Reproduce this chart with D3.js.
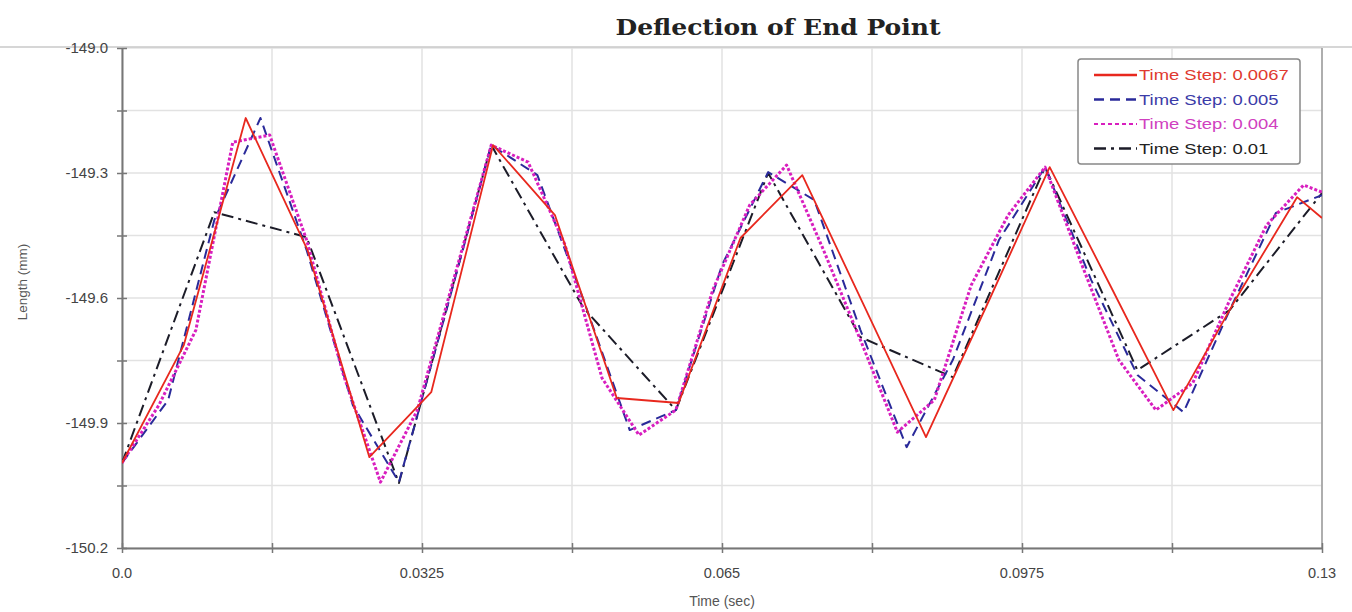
<!DOCTYPE html>
<html>
<head>
<meta charset="utf-8">
<script src="https://cdn.jsdelivr.net/npm/d3@7"></script>
<style>
  body { margin: 0; background: #fff; }
  text { font-family: Arial, "Liberation Sans", sans-serif; }
</style>
</head>
<body>
<svg id="chart" width="1352" height="612"></svg>
<script>
// time (sec) for each series
const tRed = [0, 0.0067, 0.0134, 0.0201, 0.0268, 0.0335, 0.0402, 0.0469, 0.0536, 0.0603, 0.067,
  0.0737, 0.0804, 0.0871, 0.0938, 0.1005, 0.1072, 0.1139, 0.1206, 0.1273, 0.13];
const vRed = [-149.996, -149.713, -149.168, -149.485, -149.982, -149.826, -149.233, -149.401, -149.840, -149.852, -149.456,
  -149.305, -149.619, -149.934, -149.612, -149.286, -149.576, -149.869, -149.605, -149.358, -149.408];

const tBlue = [0, 0.005, 0.01, 0.015, 0.02, 0.025, 0.03, 0.035, 0.04, 0.045, 0.05, 0.055, 0.06, 0.065,
  0.07, 0.075, 0.08, 0.085, 0.09, 0.095, 0.1, 0.105, 0.11, 0.115, 0.12, 0.125, 0.13];
const vBlue = [-149.996, -149.845, -149.413, -149.168, -149.485, -149.857, -150.042, -149.641, -149.233, -149.305,
  -149.605, -149.917, -149.869, -149.521, -149.298, -149.365, -149.677, -149.958, -149.749, -149.461,
  -149.286, -149.557, -149.785, -149.874, -149.629, -149.396, -149.353];

const tPink = [0, 0.004, 0.008, 0.012, 0.016, 0.02, 0.024, 0.028, 0.032, 0.036, 0.04, 0.044, 0.048, 0.052,
  0.056, 0.06, 0.064, 0.068, 0.072, 0.076, 0.08, 0.084, 0.088, 0.092, 0.096, 0.1, 0.104, 0.108, 0.112,
  0.116, 0.12, 0.124, 0.128, 0.13];
const vPink = [-149.996, -149.857, -149.677, -149.226, -149.209, -149.461, -149.785, -150.042, -149.869, -149.550,
  -149.233, -149.274, -149.473, -149.792, -149.929, -149.869, -149.581, -149.377, -149.281, -149.485,
  -149.701, -149.922, -149.845, -149.569, -149.401, -149.286, -149.521, -149.749, -149.869, -149.804,
  -149.605, -149.425, -149.329, -149.346];

const tBlack = [0, 0.01, 0.02, 0.03, 0.04, 0.05, 0.06, 0.07, 0.08, 0.09, 0.1, 0.11, 0.12, 0.13];
const vBlack = [-149.996, -149.394, -149.454, -150.044, -149.233, -149.624, -149.869, -149.300, -149.694,
  -149.790, -149.286, -149.773, -149.629, -149.348];

const xTicks = [0, 0.0325, 0.065, 0.0975, 0.13];
const xTickLabels = ["0.0", "0.0325", "0.065", "0.0975", "0.13"];
const yTicks = [-149.0, -149.3, -149.6, -149.9, -150.2];
const yTickLabels = ["-149.0", "-149.3", "-149.6", "-149.9", "-150.2"];

const seriesNames = ["Time Step: 0.0067", "Time Step: 0.005", "Time Step: 0.004", "Time Step: 0.01"];

const svg = d3.select("#chart");
const margin = { top: 48, right: 30, bottom: 64, left: 122 };
const width = 1352, height = 612;

const x = d3.scaleLinear().domain([0, 0.13]).range([margin.left, width - margin.right]);
const y = d3.scaleLinear().domain([-150.2, -149.0]).range([height - margin.bottom, margin.top]);

// gridlines (major + minor)
const xGrid = d3.range(0, 9).map(i => i * 0.01625);
const yGrid = d3.range(0, 9).map(i => -149.0 - i * 0.15);

svg.append("g").selectAll("line.xg").data(xGrid).join("line")
  .attr("x1", d => x(d)).attr("x2", d => x(d))
  .attr("y1", margin.top).attr("y2", height - margin.bottom)
  .attr("stroke", "#e2e2e2").attr("stroke-width", 1.5);
svg.append("g").selectAll("line.yg").data(yGrid).join("line")
  .attr("x1", margin.left).attr("x2", width - margin.right)
  .attr("y1", d => y(d)).attr("y2", d => y(d))
  .attr("stroke", "#e2e2e2").attr("stroke-width", 1.5);

// frame: top and right
svg.append("line").attr("x1", 0).attr("x2", width)
  .attr("y1", margin.top - 1).attr("y2", margin.top - 1)
  .attr("stroke", "#c8c8c8").attr("stroke-width", 1.5);
svg.append("line").attr("x1", width - margin.right).attr("x2", width - margin.right)
  .attr("y1", margin.top).attr("y2", height - margin.bottom)
  .attr("stroke", "#9a9a9a").attr("stroke-width", 1.5);

// axes
const xAxis = svg.append("g")
  .attr("transform", `translate(0,${height - margin.bottom})`)
  .call(d3.axisBottom(x).tickValues(xGrid).tickSizeInner(5).tickSizeOuter(0).tickFormat(""));
const yAxis = svg.append("g")
  .attr("transform", `translate(${margin.left},0)`)
  .call(d3.axisLeft(y).tickValues(yGrid).tickSizeInner(5).tickSizeOuter(0).tickFormat(""));
[xAxis, yAxis].forEach(a => {
  a.select(".domain").attr("stroke", "#777").attr("stroke-width", 2);
  a.selectAll(".tick line").attr("stroke", "#777").attr("stroke-width", 1.5);
});
// ticks cross the axis line
xAxis.selectAll(".tick line").attr("y1", -5);
yAxis.selectAll(".tick line").attr("x1", 5);

svg.append("g").selectAll("text").data(xTicks).join("text")
  .attr("x", d => x(d)).attr("y", height - margin.bottom + 30)
  .attr("text-anchor", "middle").attr("font-size", 14.5).attr("fill", "#444")
  .text((d, i) => xTickLabels[i]);
svg.append("g").selectAll("text").data(yTicks).join("text")
  .attr("x", margin.left - 14).attr("y", d => y(d) + 5)
  .attr("text-anchor", "end").attr("font-size", 15).attr("fill", "#444")
  .text((d, i) => yTickLabels[i]);

// axis titles
svg.append("text").attr("x", 722).attr("y", 606)
  .attr("text-anchor", "middle").attr("font-size", 14).attr("fill", "#555")
  .text("Time (sec)");
svg.append("text").attr("transform", "translate(27,282) rotate(-90)")
  .attr("text-anchor", "middle").attr("font-size", 13.5).attr("fill", "#555")
  .text("Length (mm)");

// title
svg.append("text").attr("x", 778).attr("y", 35)
  .attr("text-anchor", "middle").attr("font-size", 23).attr("font-weight", "bold")
  .style("font-family", "'DejaVu Serif', 'Liberation Serif', serif").attr("fill", "#222")
  .attr("textLength", 325).attr("lengthAdjust", "spacingAndGlyphs")
  .text("Deflection of End Point");

// lines
const line = d3.line().x(d => x(d[0])).y(d => y(d[1]));
svg.append("clipPath").attr("id", "plot-clip").append("rect")
  .attr("x", margin.left).attr("y", margin.top)
  .attr("width", width - margin.left - margin.right)
  .attr("height", height - margin.top - margin.bottom);

const styles = [
  { t: tRed, v: vRed, color: "#e8281e", width: 1.8, dash: null, text: "#e03a30" },
  { t: tBlue, v: vBlue, color: "#2a2a9a", width: 2, dash: "10,6", text: "#3c3ca8" },
  { t: tPink, v: vPink, color: "#d81fbf", width: 3, dash: "3,2", text: "#d040c0" },
  { t: tBlack, v: vBlack, color: "#1c1c28", width: 2, dash: "12,5,3,5", text: "#222" }
];

const lineGroup = svg.append("g").attr("clip-path", "url(#plot-clip)");
[3, 1, 2, 0].forEach(i => {
  const s = styles[i];
  lineGroup.append("path")
    .datum(s.t.map((t, j) => [t, s.v[j]]))
    .attr("d", line)
    .attr("fill", "none")
    .attr("stroke", s.color)
    .attr("stroke-width", s.width)
    .attr("stroke-dasharray", s.dash)
    .attr("stroke-linejoin", "round");
});

// legend
const legend = svg.append("g").attr("transform", "translate(1078,59)");
legend.append("rect").attr("width", 222).attr("height", 105).attr("rx", 3)
  .attr("fill", "#fff").attr("stroke", "#888").attr("stroke-width", 1.5);
styles.forEach((s, i) => {
  const ly = 16 + i * 24.5;
  legend.append("line").attr("x1", 16).attr("x2", 59).attr("y1", ly).attr("y2", ly)
    .attr("stroke", s.color).attr("stroke-width", s.width === 3 ? 2 : s.width + 0.5)
    .attr("stroke-dasharray", i === 2 ? "4,3" : s.dash);
  const txt = legend.append("text").attr("x", 61).attr("y", ly + 5)
    .attr("font-size", 14.5).attr("fill", s.text)
    .text(seriesNames[i]);
  const w = txt.node().getComputedTextLength();
  txt.attr("textLength", w * 1.27).attr("lengthAdjust", "spacingAndGlyphs");
});
</script>
</body>
</html>
